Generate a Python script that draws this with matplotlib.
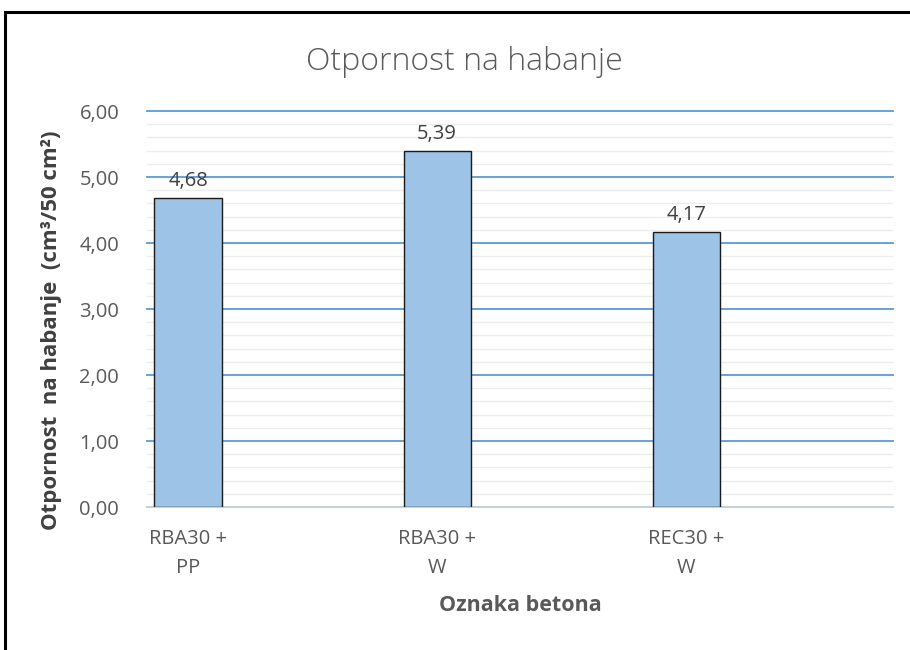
import matplotlib
matplotlib.use("Agg")
import matplotlib.pyplot as plt
from matplotlib.patches import Rectangle
from matplotlib.ticker import MultipleLocator, FuncFormatter

categories = ["RBA30 +\nPP", "RBA30 +\nW", "REC30 +\nW"]
values = [4.68, 5.39, 4.17]
value_labels = ["4,68", "5,39", "4,17"]

plt.rcParams['font.family'] = ['Open Sans', 'DejaVu Sans']

fig = plt.figure(figsize=(9.1, 6.5), dpi=100)
ax = fig.add_axes([147/910, 1-507/650, (893-147)/910, (507-111)/650])

x = list(range(len(categories)))
ax.bar(x, values, width=0.27, color="#9DC3E6", edgecolor="#1a1a1a", linewidth=1.0, zorder=3)
for xi, v, lab in zip(x, values, value_labels):
    ax.annotate(lab, (xi, v), xytext=(0, 5), textcoords="offset points",
                ha="center", va="bottom", fontsize=14.5, color="#404040")

ax.set_ylim(0, 6)
ax.set_xlim(-0.165, 2.83)
ax.yaxis.set_major_locator(MultipleLocator(1))
ax.yaxis.set_minor_locator(MultipleLocator(0.2))
ax.yaxis.set_major_formatter(FuncFormatter(lambda v, p: f"{v:.2f}".replace(".", ",")))
ax.grid(which="major", axis="y", color="#5B9BD5", linewidth=1.3, zorder=1)
ax.grid(which="minor", axis="y", color="#EDEDED", linewidth=1.0, zorder=0)
ax.set_xticks(x)
ax.set_xticklabels(categories, fontsize=14.5, color="#595959", linespacing=1.6)
ax.tick_params(axis="y", which="both", length=0, labelsize=14.5, labelcolor="#595959", pad=20)
ax.tick_params(axis="x", length=0, pad=16)
for s in ["top", "right", "left"]:
    ax.spines[s].set_visible(False)
ax.spines["bottom"].set_color("#D9D9D9")
ax.spines["bottom"].set_linewidth(1.2)
ax.set_axisbelow(True)

ax.set_ylabel("Otpornost  na habanje  (cm³/50 cm²)", fontsize=16, fontweight="bold",
              color="#404040")
ax.yaxis.set_label_coords((62-147)/746, (507-330)/396)
ax.set_xlabel("Oznaka betona", fontsize=15.5, fontweight="bold", color="#595959", labelpad=12)

fig.text(464/910, 1-62/650, "Otpornost na habanje", ha="center", va="center",
         fontsize=23, color="#595959", fontweight="light")

fig.patches.append(Rectangle((5/910, -0.05), 1.0, 1-12/650+0.05, transform=fig.transFigure,
                             fill=False, edgecolor="black", linewidth=2.2))

fig.canvas.draw()
for gl in ax.yaxis.get_gridlines():
    gl.set_clip_on(False)

fig.savefig("out.png", dpi=100, facecolor="white")
